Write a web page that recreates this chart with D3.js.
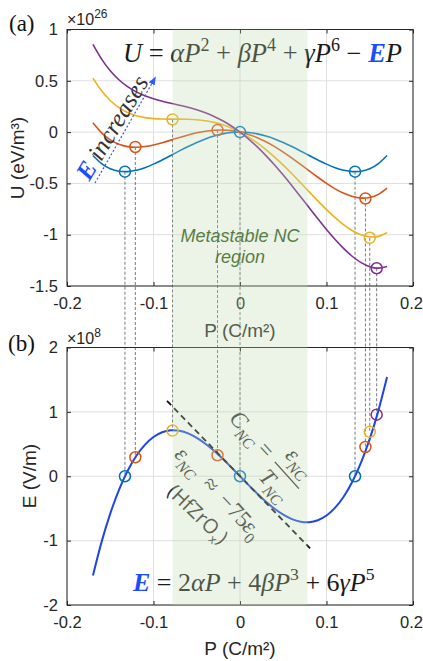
<!DOCTYPE html>
<html>
<head>
<meta charset="utf-8">
<script src="https://cdn.jsdelivr.net/npm/d3@7"></script>
<style>
  body { margin: 0; background: #fff; }
  svg { display: block; }
</style>
</head>
<body>
<script>
// ---- data ----
const pGrid = [-0.17,-0.16,-0.15,-0.14,-0.13,-0.12,-0.11,-0.10,-0.09,-0.08,-0.07,-0.06,-0.05,-0.04,-0.03,-0.02,-0.01,0,
               0.01,0.02,0.03,0.04,0.05,0.06,0.07,0.08,0.09,0.10,0.11,0.12,0.13,0.14,0.15,0.16,0.17];

// U (x1e26 eV/m^3) for the four field values
const uBlue   = [-0.2277,-0.3071,-0.3566,-0.3810,-0.3848,-0.3721,-0.3468,-0.3122,-0.2717,-0.2279,-0.1834,-0.1404,-0.1008,-0.0663,-0.0380,-0.0171,-0.0043,0,
                 -0.0043,-0.0171,-0.0380,-0.0663,-0.1008,-0.1404,-0.1834,-0.2279,-0.2717,-0.3122,-0.3468,-0.3721,-0.3848,-0.3810,-0.3566,-0.3071,-0.2277];
const uOrange = [0.0907,-0.0075,-0.0757,-0.1189,-0.1414,-0.1474,-0.1408,-0.1250,-0.1031,-0.0781,-0.0523,-0.0280,-0.0072,0.0086,0.0182,0.0203,0.0144,0,
                 -0.0231,-0.0546,-0.0942,-0.1412,-0.1944,-0.2528,-0.3145,-0.3777,-0.4402,-0.4995,-0.5528,-0.5968,-0.6283,-0.6432,-0.6375,-0.6067,-0.5460];
const uYellow = [0.5257,0.4020,0.3082,0.2394,0.1913,0.1597,0.1407,0.1309,0.1272,0.1267,0.1269,0.1255,0.1208,0.1110,0.0949,0.0715,0.0400,0,
                 -0.0486,-0.1058,-0.1710,-0.2435,-0.3224,-0.4063,-0.4936,-0.5824,-0.6705,-0.7554,-0.8343,-0.9039,-0.9609,-1.0015,-1.0214,-1.0162,-0.9811];
const uPurple = [0.8547,0.7116,0.5984,0.5103,0.4429,0.3919,0.3536,0.3244,0.3014,0.2815,0.2623,0.2416,0.2175,0.1884,0.1530,0.1102,0.0594,0,
                 -0.0680,-0.1445,-0.2290,-0.3209,-0.4192,-0.5224,-0.6290,-0.7372,-0.8447,-0.9489,-1.0471,-1.1361,-1.2125,-1.2724,-1.3116,-1.3258,-1.3101];

// E (x1e8 V/m) vs P
const eCurve  = [-1.5400,-1.0195,-0.5796,-0.2143,0.0818,0.3143,0.4885,0.6097,0.6830,0.7135,0.7062,0.6660,0.5977,0.5060,0.3957,0.2716,0.1381,0,
                 -0.1381,-0.2716,-0.3957,-0.5060,-0.5977,-0.6660,-0.7062,-0.7135,-0.6830,-0.6097,-0.4885,-0.3143,-0.0818,0.2143,0.5796,1.0195,1.5400];

// circled operating points (same P in both panels)
const markP      = [-0.133, 0, 0.133, -0.121, -0.026, 0.145, -0.078, 0.150, 0.158];
const markU      = [-0.386, 0, -0.386, -0.145, 0.020, -0.647, 0.123, -1.030, -1.327];
const markE      = [0, 0, 0, 0.295, 0.326, 0.455, 0.710, 0.690, 0.957];
const markSeries = [0, 0, 0, 1, 1, 1, 2, 2, 3];

// negative capacitance tangent at P = 0
const tangentP = [-0.0844, 0.081];
const tangentE = [1.17, -1.12];

// metastable NC band
const ncBand = [-0.078, 0.078];

const xTicks = [-0.2, -0.1, 0, 0.1, 0.2];
const xTickLabels = ["-0.2", "-0.1", "0", "0.1", "0.2"];
const uTicks = [-1.5, -1, -0.5, 0, 0.5, 1];
const uTickLabels = ["-1.5", "-1", "-0.5", "0", "0.5", "1"];
const eTicks = [-2, -1, 0, 1, 2];
const eTickLabels = ["-2", "-1", "0", "1", "2"];

const seriesColors = ["#0072BD", "#D95319", "#EDB120", "#7E2F8E"];
const uSeries = [uBlue, uOrange, uYellow, uPurple];

// ---- layout ----
const W = 423, H = 661;
const svg = d3.select("body").append("svg").attr("width", W).attr("height", H);

const x = d3.scaleLinear().domain([-0.2, 0.2]).range([67, 413]);
const yU = d3.scaleLinear().domain([-1.5, 1]).range([286, 29.5]);
const yE = d3.scaleLinear().domain([-2, 2]).range([605, 347.5]);

const sans = "'Liberation Sans', Arial, sans-serif";
const serif = "'Liberation Serif', 'Times New Roman', serif";
const axisColor = "#262626";
const eqBlue = "#1a4dff";
const noteColor = "#333";

// grid lines for a panel
function grid(y, yTicks) {
    const g = svg.append("g").attr("stroke", "#dfdfdf").attr("stroke-width", 1);
    g.selectAll("line.v").data(xTicks).enter().append("line")
        .attr("x1", d => x(d)).attr("x2", d => x(d))
        .attr("y1", y.range()[0]).attr("y2", y.range()[1]);
    g.selectAll("line.h").data(yTicks).enter().append("line")
        .attr("x1", x.range()[0]).attr("x2", x.range()[1])
        .attr("y1", d => y(d)).attr("y2", d => y(d));
}

// box axes, MATLAB style (ticks inside)
function axes(y, yTicks, yLabels) {
    const y0 = y.range()[1], y1 = y.range()[0];
    const x0 = x.range()[0], x1 = x.range()[1];

    const bottom = svg.append("g").attr("transform", `translate(0,${y1})`)
        .call(d3.axisBottom(x).tickValues(xTicks).tickFormat((d, i) => xTickLabels[i]).tickSize(-4).tickPadding(11));
    const top = svg.append("g").attr("transform", `translate(0,${y0})`)
        .call(d3.axisTop(x).tickValues(xTicks).tickFormat("").tickSize(-4));
    const left = svg.append("g").attr("transform", `translate(${x0},0)`)
        .call(d3.axisLeft(y).tickValues(yTicks).tickFormat((d, i) => yLabels[i]).tickSize(-4).tickPadding(9));
    const right = svg.append("g").attr("transform", `translate(${x1},0)`)
        .call(d3.axisRight(y).tickValues(yTicks).tickFormat("").tickSize(-4));

    [bottom, top, left, right].forEach(a => {
        a.select(".domain").remove();
        a.selectAll("line").attr("stroke", axisColor);
        a.selectAll("text").attr("fill", axisColor).attr("font-family", sans).attr("font-size", 16.5);
    });
    // keep the last x label inside the window
    bottom.selectAll("text").filter(d => d === 0.2).attr("dx", -2);

    svg.append("rect").attr("x", x0).attr("y", y0).attr("width", x1 - x0).attr("height", y1 - y0)
        .attr("fill", "none").attr("stroke", axisColor).attr("stroke-width", 1);
}

// math-like text built from tspans
function mathText(parent, px, py, size, parts, anchor) {
    const t = parent.append("text").attr("x", px).attr("y", py)
        .attr("font-family", serif).attr("font-size", size).attr("fill", "#1a1a1a")
        .attr("text-anchor", anchor || "start");
    let shift = 0;
    parts.forEach(p => {
        const target = p.sup ? -0.42 * size : p.sub ? 0.28 * size : 0;
        const ts = t.append("tspan").text(p.t).attr("dy", target - shift);
        shift = target;
        if (p.sup || p.sub) ts.attr("font-size", size * 0.68);
        if (p.it) ts.attr("font-style", "italic");
        if (p.b) ts.attr("font-weight", "bold");
        if (p.c) ts.attr("fill", p.c);
    });
    return t;
}

grid(yU, uTicks);
grid(yE, eTicks);

// dashed connectors between the two panels
svg.append("g").selectAll("line").data(markP).enter().append("line")
    .attr("x1", d => x(d)).attr("x2", d => x(d))
    .attr("y1", (d, i) => yU(markU[i])).attr("y2", (d, i) => yE(markE[i]))
    .attr("stroke", "#555").attr("stroke-width", 0.8).attr("stroke-dasharray", "3,2");

// panel (a): energy curves
const uLine = d3.line().x((d, i) => x(pGrid[i])).y(d => yU(d)).curve(d3.curveNatural);
svg.append("g").selectAll("path").data(uSeries).enter().append("path")
    .attr("d", uLine).attr("fill", "none")
    .attr("stroke", (d, i) => seriesColors[i]).attr("stroke-width", 1.6);

// panel (b): E-P curve
const eLine = d3.line().x((d, i) => x(pGrid[i])).y(d => yE(d)).curve(d3.curveNatural);
svg.append("path").datum(eCurve).attr("d", eLine).attr("fill", "none")
    .attr("stroke", "#1f45e6").attr("stroke-width", 2);

// tangent (NC slope)
svg.append("line")
    .attr("x1", x(tangentP[0])).attr("y1", yE(tangentE[0]))
    .attr("x2", x(tangentP[1])).attr("y2", yE(tangentE[1]))
    .attr("stroke", "#111").attr("stroke-width", 1.8).attr("stroke-dasharray", "6,4");

// markers
svg.append("g").selectAll("circle").data(markP).enter().append("circle")
    .attr("cx", d => x(d)).attr("cy", (d, i) => yU(markU[i])).attr("r", 5.5)
    .attr("fill", "none").attr("stroke", (d, i) => seriesColors[markSeries[i]]).attr("stroke-width", 1.5);
svg.append("g").selectAll("circle").data(markP).enter().append("circle")
    .attr("cx", d => x(d)).attr("cy", (d, i) => yE(markE[i])).attr("r", 5.5)
    .attr("fill", "none").attr("stroke", (d, i) => seriesColors[markSeries[i]]).attr("stroke-width", 1.5);

axes(yU, uTicks, uTickLabels);
axes(yE, eTicks, eTickLabels);

// axis labels
svg.append("text").attr("x", 240).attr("y", 337).attr("text-anchor", "middle")
    .attr("font-family", sans).attr("font-size", 19).attr("fill", axisColor).text("P (C/m²)");
svg.append("text").attr("x", 240).attr("y", 655).attr("text-anchor", "middle")
    .attr("font-family", sans).attr("font-size", 19).attr("fill", axisColor).text("P (C/m²)");
svg.append("text").attr("transform", "translate(24,158) rotate(-90)").attr("text-anchor", "middle")
    .attr("font-family", sans).attr("font-size", 19).attr("fill", axisColor).text("U (eV/m³)");
svg.append("text").attr("transform", "translate(36,476) rotate(-90)").attr("text-anchor", "middle")
    .attr("font-family", sans).attr("font-size", 19).attr("fill", axisColor).text("E (V/m)");

// exponent labels
[[26, 25], [8, 344]].forEach(([ex, yy]) => {
    const t = svg.append("text").attr("x", 67).attr("y", yy)
        .attr("font-family", sans).attr("font-size", 16).attr("fill", axisColor);
    t.append("tspan").text("×10");
    t.append("tspan").text(ex).attr("font-size", 12).attr("dy", -7);
});

// panel letters
svg.append("text").attr("x", 9).attr("y", 31).attr("font-family", serif).attr("font-size", 23).attr("fill", "#111").text("(a)");
svg.append("text").attr("x", 8).attr("y", 351).attr("font-family", serif).attr("font-size", 23).attr("fill", "#111").text("(b)");

// equations
mathText(svg, 123, 62, 26.5, [
    {t: "U", it: 1}, {t: " = "}, {t: "αP", it: 1}, {t: "2", sup: 1}, {t: " + "},
    {t: "βP", it: 1}, {t: "4", sup: 1}, {t: " + "}, {t: "γP", it: 1}, {t: "6", sup: 1},
    {t: " − "}, {t: "E", it: 1, b: 1, c: eqBlue}, {t: "P", it: 1}
]);
mathText(svg, 133, 591, 26, [
    {t: "E", it: 1, b: 1, c: eqBlue}, {t: " = 2"}, {t: "αP", it: 1}, {t: " + 4"},
    {t: "βP", it: 1}, {t: "3", sup: 1}, {t: " + 6"}, {t: "γP", it: 1}, {t: "5", sup: 1}
]);

// "E increases" arrow
svg.append("defs").append("marker").attr("id", "ah").attr("viewBox", "0 0 10 10")
    .attr("refX", 8).attr("refY", 5).attr("markerWidth", 7).attr("markerHeight", 7).attr("orient", "auto")
    .append("path").attr("d", "M0,1 L10,5 L0,9 Z").attr("fill", "#2a5cff");
svg.append("line").attr("x1", 95).attr("y1", 183).attr("x2", 155).attr("y2", 78)
    .attr("stroke", "#2a5cff").attr("stroke-width", 1.2).attr("stroke-dasharray", "2,2")
    .attr("marker-end", "url(#ah)");
const inc = svg.append("g").attr("transform", "translate(87,170) rotate(-59)");
mathText(inc, -9, 8, 25, [{t: "E", it: 1, b: 1, c: eqBlue}, {t: " increases", it: 1}])
    .attr("fill", noteColor);

// C_NC = eps_NC / T_NC
const cnc = svg.append("g").attr("transform", "translate(238,421) rotate(48)");
mathText(cnc, -8, 6, 23, [{t: "C", it: 1}, {t: "NC", it: 1, sub: 1}]).attr("fill", noteColor);
mathText(cnc, 40, 6, 23, [{t: "="}], "middle").attr("fill", noteColor);
mathText(cnc, 72, -11, 23, [{t: "ε", it: 1}, {t: "NC", it: 1, sub: 1}], "middle").attr("fill", noteColor);
cnc.append("line").attr("x1", 55).attr("x2", 91).attr("y1", 0).attr("y2", 0)
    .attr("stroke", noteColor).attr("stroke-width", 1.4);
mathText(cnc, 72, 23, 23, [{t: "T", it: 1}, {t: "NC", it: 1, sub: 1}], "middle").attr("fill", noteColor);

// eps_NC ~ -75 eps_0
const eps = svg.append("g").attr("transform", "translate(188,462) rotate(47)");
mathText(eps, 0, 6, 23, [{t: "ε", it: 1}, {t: "NC", it: 1, sub: 1}], "middle").attr("fill", noteColor);
mathText(eps, 32, 6, 23, [{t: "≈"}], "middle").attr("fill", noteColor);
mathText(eps, 55, 6, 23, [{t: "−"}], "middle").attr("fill", noteColor);
mathText(eps, 74, 6, 23, [{t: "75"}], "middle").attr("fill", noteColor);
mathText(eps, 93, 6, 23, [{t: "ε", it: 1}, {t: "0", sub: 1}], "middle").attr("fill", noteColor);

const hf = svg.append("g").attr("transform", "translate(198,514) rotate(44)");
const hfT = hf.append("text").attr("x", 0).attr("y", 7).attr("text-anchor", "middle")
    .attr("font-family", "'Open Sans', sans-serif").attr("font-size", 20).attr("fill", noteColor);
hfT.append("tspan").text("(HfZrO");
hfT.append("tspan").text("x").attr("font-size", 12).attr("dy", 5);
hfT.append("tspan").text(")").attr("dy", -5);

// metastable NC label
svg.append("text").attr("x", 240).attr("y", 242).attr("text-anchor", "middle")
    .attr("font-family", sans).attr("font-style", "italic").attr("font-size", 18).attr("fill", "#2a5510")
    .text("Metastable NC");
svg.append("text").attr("x", 240).attr("y", 263).attr("text-anchor", "middle")
    .attr("font-family", sans).attr("font-style", "italic").attr("font-size", 18).attr("fill", "#2a5510")
    .text("region");

// translucent band on top of everything
svg.append("rect")
    .attr("x", x(ncBand[0])).attr("width", x(ncBand[1]) - x(ncBand[0]))
    .attr("y", yU.range()[1]).attr("height", yE.range()[0] - yU.range()[1])
    .attr("fill", "rgb(190,220,175)").attr("opacity", 0.3);
</script>
</body>
</html>
